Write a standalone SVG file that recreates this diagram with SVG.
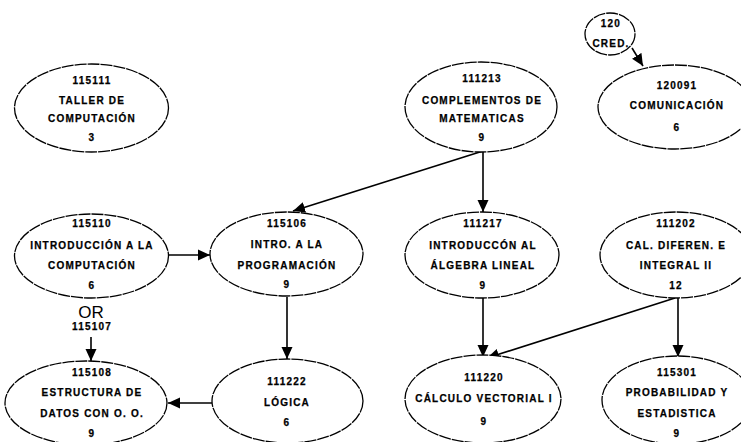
<svg xmlns="http://www.w3.org/2000/svg" width="741" height="442" viewBox="0 0 741 442">
<style>
.n ellipse{fill:#fff;stroke:#000;stroke-width:1.3;stroke-dasharray:12 1}
.n text,.t{font-family:"Liberation Sans",Arial,sans-serif;font-weight:bold;font-size:10px;letter-spacing:1.2px;text-anchor:middle;fill:#000;stroke:#000;stroke-width:0.25}
.or{font-family:"Liberation Sans",Arial,sans-serif;font-size:17px;text-anchor:middle;fill:#000}
#edges line{stroke:#000;stroke-width:1.6;marker-end:url(#ah)}
</style>
<defs>
<marker id="ah" markerUnits="userSpaceOnUse" markerWidth="13" markerHeight="13" viewBox="0 0 13 13" refX="12" refY="6.5" orient="auto">
<path d="M0,1 L12,6.5 L0,12 Z" fill="#000"/>
</marker>
</defs>
<rect width="741" height="442" fill="#fff"/>
<g id="edges">
<line x1="632" y1="48" x2="643" y2="66"/>
<line x1="483" y1="151" x2="293" y2="211"/>
<line x1="483" y1="151" x2="483" y2="212"/>
<line x1="168" y1="255" x2="210" y2="255"/>
<line x1="287" y1="297" x2="287" y2="359"/>
<line x1="212" y1="403" x2="168" y2="403"/>
<line x1="91" y1="337" x2="91" y2="361"/>
<line x1="483" y1="298" x2="483" y2="357"/>
<line x1="675" y1="298" x2="487" y2="358"/>
<line x1="678" y1="298" x2="678" y2="357"/>
</g>
<g id="n115111" class="n">
<ellipse cx="91.5" cy="108" rx="77" ry="44"/>
<text x="92" y="84">115111</text>
<text x="92" y="104">TALLER DE</text>
<text x="92" y="122">COMPUTACIÓN</text>
<text x="92" y="141">3</text>
</g>
<g id="n111213" class="n">
<ellipse cx="481" cy="107" rx="76" ry="45"/>
<text x="482" y="82">111213</text>
<text x="482" y="104">COMPLEMENTOS DE</text>
<text x="482" y="122">MATEMATICAS</text>
<text x="482" y="141">9</text>
</g>
<g id="n120091" class="n">
<ellipse cx="675" cy="107" rx="77" ry="42"/>
<text x="677" y="89">120091</text>
<text x="677" y="109">COMUNICACIÓN</text>
<text x="677" y="131">6</text>
</g>
<g id="cred" class="n">
<ellipse cx="610" cy="34" rx="25" ry="21"/>
<text x="611" y="27">120</text>
<text x="611" y="47">CRED.</text>
</g>
<g id="n115110" class="n">
<ellipse cx="91.5" cy="256" rx="77" ry="42"/>
<text x="92" y="227">115110</text>
<text x="92" y="249">INTRODUCCIÓN A LA</text>
<text x="92" y="269">COMPUTACIÓN</text>
<text x="92" y="289">6</text>
</g>
<g id="n115106" class="n">
<ellipse cx="286.5" cy="254" rx="76.5" ry="42"/>
<text x="287" y="227">115106</text>
<text x="287" y="248">INTRO. A LA</text>
<text x="287" y="269">PROGRAMACIÓN</text>
<text x="287" y="288">9</text>
</g>
<g id="n111217" class="n">
<ellipse cx="482" cy="255" rx="77" ry="43"/>
<text x="483" y="227">111217</text>
<text x="483" y="249">INTRODUCCÓN AL</text>
<text x="483" y="269">ÁLGEBRA LINEAL</text>
<text x="483" y="289">9</text>
</g>
<g id="n111202" class="n">
<ellipse cx="676" cy="255" rx="76" ry="43"/>
<text x="676" y="227">111202</text>
<text x="676" y="249">CAL. DIFEREN. E</text>
<text x="676" y="269">INTEGRAL II</text>
<text x="676" y="289">12</text>
</g>
<g id="or115107">
<text class="or" x="91" y="318">OR</text>
<text class="t" x="92" y="330">115107</text>
</g>
<g id="n115108" class="n">
<ellipse cx="86" cy="403" rx="81" ry="42"/>
<text x="92" y="376">115108</text>
<text x="92" y="396">ESTRUCTURA DE</text>
<text x="92" y="417">DATOS CON O. O.</text>
<text x="92" y="437">9</text>
</g>
<g id="n111222" class="n">
<ellipse cx="287.5" cy="401" rx="75.5" ry="42"/>
<text x="287" y="385">111222</text>
<text x="287" y="406">LÓGICA</text>
<text x="287" y="426">6</text>
</g>
<g id="n111220" class="n">
<ellipse cx="483" cy="399" rx="78" ry="44"/>
<text x="484" y="381">111220</text>
<text x="484" y="402">CÁLCULO VECTORIAL I</text>
<text x="484" y="425">9</text>
</g>
<g id="n115301" class="n">
<ellipse cx="677" cy="400" rx="75" ry="44"/>
<text x="677" y="376">115301</text>
<text x="677" y="396">PROBABILIDAD Y</text>
<text x="677" y="417">ESTADISTICA</text>
<text x="677" y="437">9</text>
</g>
</svg>
